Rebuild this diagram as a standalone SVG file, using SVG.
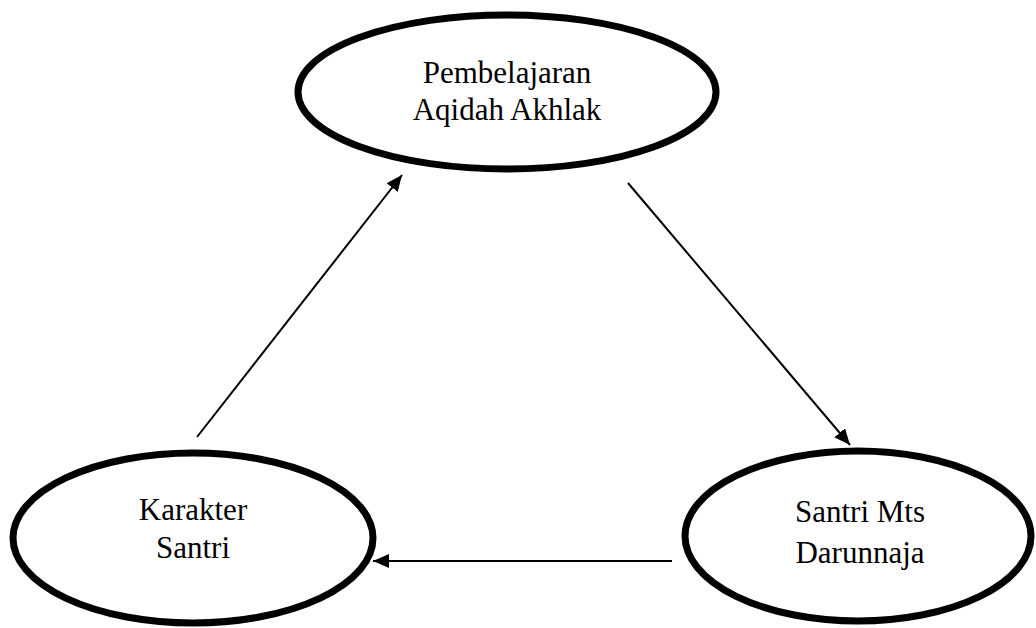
<svg xmlns="http://www.w3.org/2000/svg" width="1036" height="628" viewBox="0 0 1036 628">
<style>
.node{fill:#fff;stroke:#000;stroke-width:7}
.lbl{font-family:"Liberation Serif","Times New Roman",serif;font-size:31px;fill:#000;text-anchor:middle}
.edge{stroke:#000;stroke-width:2;fill:none}
</style>
<defs>
<marker id="ah" markerUnits="userSpaceOnUse" markerWidth="17" markerHeight="14" refX="16" refY="7" orient="auto">
<path d="M0,0 L16,7 L0,14 z" fill="#000"/>
</marker>
</defs>
<rect width="1036" height="628" fill="#fff"/>
<g id="n1">
<ellipse class="node" cx="507" cy="92" rx="209" ry="77"/>
<text class="lbl" x="507" y="83">Pembelajaran</text>
<text class="lbl" x="507" y="120">Aqidah Akhlak</text>
</g>
<g id="n2">
<ellipse class="node" cx="858" cy="536" rx="173" ry="85"/>
<text class="lbl" x="860" y="522">Santri Mts</text>
<text class="lbl" x="860" y="563">Darunnaja</text>
</g>
<g id="n3">
<ellipse class="node" cx="193" cy="538" rx="180" ry="85"/>
<text class="lbl" x="193" y="520">Karakter</text>
<text class="lbl" x="193" y="558">Santri</text>
</g>
<g id="edges">
<line class="edge" x1="197" y1="437" x2="402" y2="175" marker-end="url(#ah)"/>
<line class="edge" x1="628" y1="183" x2="850" y2="445" marker-end="url(#ah)"/>
<line class="edge" x1="672" y1="561" x2="373" y2="561" marker-end="url(#ah)"/>
</g>
</svg>
